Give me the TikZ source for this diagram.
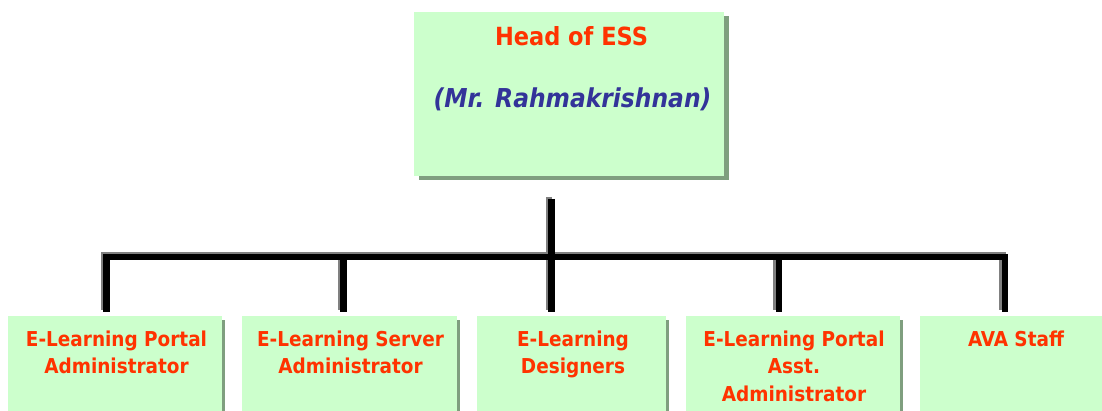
\documentclass[tikz,border=0pt]{standalone}
\usepackage{fontspec}
\setmainfont{DejaVu Sans Condensed}
\usetikzlibrary{shadows}

\definecolor{boxfill}{HTML}{CCFFCC}
\definecolor{boxshade}{HTML}{7F9F7F}
\definecolor{titlered}{HTML}{FF3300}
\definecolor{namenavy}{HTML}{333399}
\definecolor{edgegray}{HTML}{808080}

\tikzset{
  orgbox/.style={rectangle, fill=boxfill, inner sep=0pt},
  headshade/.style={drop shadow={shadow xshift=4.5pt, shadow yshift=-4.5pt, fill=boxshade, opacity=1}},
  unitshade/.style={drop shadow={shadow xshift=3pt, shadow yshift=-4pt, fill=boxshade, opacity=1}},
  unittext/.style={anchor=north, inner sep=0pt, align=center, text=titlered,
    font=\bfseries\fontsize{20.5}{27.5}\selectfont},
  linkedge/.style={draw=edgegray, line width=6.5pt, line cap=butt,
    transform canvas={shift={(-2.5pt,2pt)}}},
  linkcore/.style={draw=black, line width=6.5pt, line cap=butt},
}

\begin{document}
\begin{tikzpicture}[x=1pt, y=-1pt]
\useasboundingbox (0,0) rectangle (1102,411);
\clip (0,0) rectangle (1102,411);

% head of the section
\node[orgbox, headshade, minimum width=310, minimum height=164] (head) at (569,94) {};
\node[anchor=base, inner sep=0pt, text=titlered, font=\bfseries\fontsize{25}{30}\selectfont]
  (headtitle) at (571.5,46) {Head of ESS};
\node[anchor=base, inner sep=0pt, text=namenavy, font=\bfseries\itshape\fontsize{26}{30}\selectfont]
  (headname) at (572.5,108) {(Mr. Rahmakrishnan)};

% the five units
\node[orgbox, unitshade, minimum width=214, minimum height=120] (u1) at (115,376) {};
\node[orgbox, unitshade, minimum width=215, minimum height=120] (u2) at (349.5,376) {};
\node[orgbox, unitshade, minimum width=189, minimum height=120] (u3) at (571.5,376) {};
\node[orgbox, unitshade, minimum width=214, minimum height=120] (u4) at (793,376) {};
\node[orgbox, unitshade, minimum width=192, minimum height=120] (u5) at (1016,376) {};

\node[unittext] (t1) at (116.5,330.4) {E-Learning Portal\\Administrator};
\node[unittext] (t2) at (350.5,330.4) {E-Learning Server\\Administrator};
\node[unittext] (t3) at (573,330.4) {E-Learning\\Designers};
\node[unittext] (t4) at (794,330.4) {E-Learning Portal\\Asst.\\Administrator};
\node[unittext] (t5) at (1016,330.4) {AVA Staff};

% connector ends
\coordinate (stem) at (551.5,199);
\coordinate (c1) at (106.5,257);
\coordinate (c5) at (1005,257);
\coordinate (d1) at (106.5,312);
\coordinate (d2) at (343.5,312);
\coordinate (d3) at (551.5,312);
\coordinate (d4) at (779,312);
\coordinate (d5) at (1005,312);

% grey bevel under the black bars
\foreach \sty in {linkedge, linkcore} {
  \path[\sty] (d1) -- (c1) -- (c5) -- (d5);
  \path[\sty] (stem) -- (d3);
  \path[\sty] (d2 |- c1) -- (d2);
  \path[\sty] (d4 |- c1) -- (d4);
}
\end{tikzpicture}
\end{document}
